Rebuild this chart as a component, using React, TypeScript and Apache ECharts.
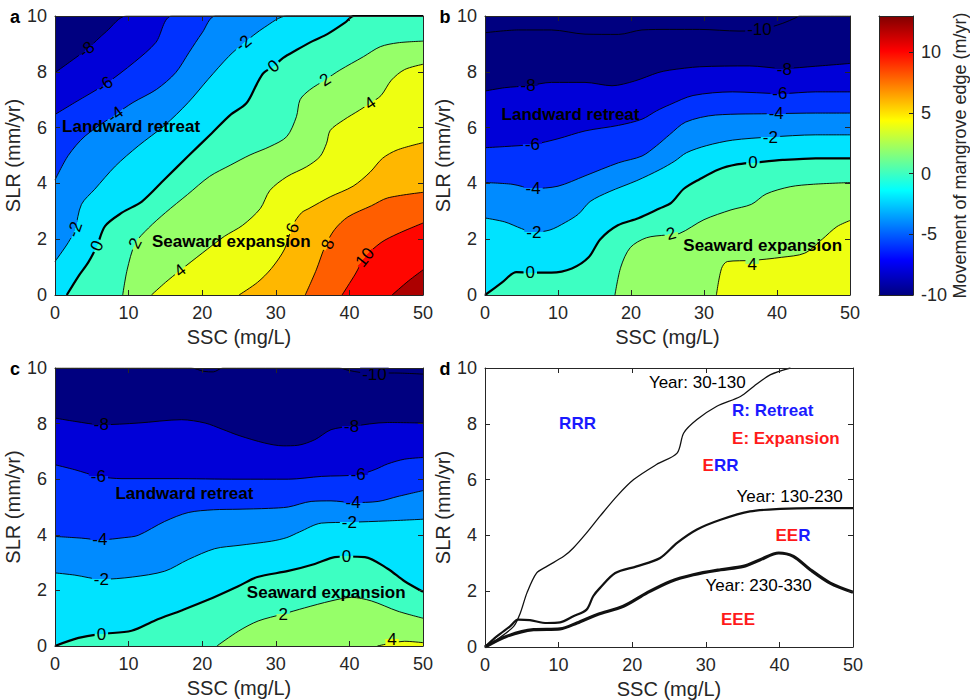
import React, { useEffect, useRef } from "react";
import * as echarts from "echarts";

type Pt = [number, number];
type Lab = [number, number, string, number];
type Txt = [number, number, string];

const FONT = '"Liberation Sans", Arial, Helvetica, sans-serif';

// ---------- scales ----------
const SSC_TICKS = [0, 10, 20, 30, 40, 50];
const SLR_TICKS = [0, 2, 4, 6, 8, 10];
const CBAR_MIN = -10;
const CBAR_MAX = 13;
const CBAR_STEP = 5;
const LEVEL_STEP = 2;

// ---------- panel a: contour lines (SSC, SLR) ----------
const A_LEVELS = [-8, -6, -4, -2, 0, 2, 4, 6, 8, 10, 12];
const A_M8: Pt[] = [[0, 7.97], [2, 8.35], [4.3, 8.8], [7, 9.45], [9.7, 10], [50, 10]];
const A_M6: Pt[] = [[0, 6.47], [2.7, 6.9], [6.8, 7.55], [10.8, 8.35], [13.7, 9.05], [15.9, 10], [50, 10]];
const A_M4: Pt[] = [[0, 4.12], [1.8, 5.0], [4.1, 5.7], [8.2, 6.47], [10.6, 6.9], [13.8, 7.37], [16.4, 7.97], [18.2, 8.69], [20, 9.4], [21.8, 10], [50, 10]];
const A_M2: Pt[] = [[0, 1.2], [1.8, 1.88], [2.7, 2.35], [3.6, 3.25], [5.4, 3.79], [8.2, 4.62], [11.3, 5.34], [14.9, 6.08], [18.1, 6.9], [20.8, 7.73], [23.6, 8.55], [25.6, 9.02], [28.5, 9.6], [31.5, 10], [50, 10]];
const A_0: Pt[] = [[1.6, 0], [3.2, 0.68], [4.5, 1.16], [5.7, 1.76], [6.8, 2.47], [9.1, 2.95], [11.8, 3.35], [14.9, 4.15], [18.1, 4.98], [21.3, 5.8], [23.8, 6.45], [26, 6.87], [27.4, 7.55], [28.3, 7.95], [29.7, 8.2], [31, 8.5], [32.8, 8.78], [35, 9.1], [37, 9.35], [39.4, 9.76], [40.6, 10], [50, 10]];
const A_2: Pt[] = [[9.2, 0], [9.8, 0.9], [10.9, 1.85], [12.7, 2.4], [15, 2.95], [18, 3.6], [21, 4.25], [23.8, 4.65], [26.5, 5.02], [29.2, 5.32], [31.5, 5.68], [32.8, 6.39], [33.3, 7.0], [34.6, 7.35], [36.7, 7.71], [38.7, 8.06], [41.9, 8.54], [44.2, 8.9], [46.6, 9.04], [50, 9.1]];
const A_4: Pt[] = [[13.1, 0], [15, 0.45], [17, 0.88], [20, 1.5], [23, 2.1], [25.5, 2.5], [27.9, 3.1], [29.2, 3.75], [31.5, 4.24], [34.2, 4.6], [36, 4.96], [36.9, 5.44], [37.4, 5.9], [39.2, 6.27], [41.4, 6.63], [42.8, 6.87], [44.3, 7.15], [45.7, 7.7], [47.5, 8.08], [50, 8.27]];
const A_6: Pt[] = [[25, 0], [27.5, 0.45], [29.4, 0.95], [31.2, 1.65], [32.3, 2.5], [33.5, 2.95], [34.5, 3.1], [37.4, 3.52], [40.5, 3.9], [42.8, 4.4], [44.5, 4.9], [46.5, 5.2], [50, 5.46]];
const A_8: Pt[] = [[34, 0], [35.5, 0.9], [36.7, 1.75], [38, 2.35], [39.8, 2.8], [43, 3.2], [45.2, 3.48], [50, 3.68]];
const A_10: Pt[] = [[39, 0], [40.8, 0.75], [42.1, 1.35], [44.3, 1.88], [46.6, 2.2], [50, 2.58]];
const A_12: Pt[] = [[45.8, 0], [48, 0.5], [50, 0.9]];
const A_LINES = [A_M8, A_M6, A_M4, A_M2, A_0, A_2, A_4, A_6, A_8, A_10, A_12];
const A_LABELS: Lab[] = [
  [4.3, 8.8, "-8", 40], [6.8, 7.55, "-6", 34], [8.2, 6.47, "-4", 36], [2.7, 2.35, "-2", 71],
  [25.6, 9.02, "-2", 39], [5.7, 1.76, "0", 65], [29.7, 8.2, "0", 38], [10.9, 1.85, "2", 63],
  [36.7, 7.71, "2", 33], [17, 0.88, "4", 38], [42.8, 6.87, "4", 34], [32.3, 2.4, "6", 70],
  [37.1, 1.82, "8", 72], [42.1, 1.35, "10", 51],
];
const A_TEXT: Txt[] = [[0.9, 6.05, "Landward retreat"], [13.1, 1.92, "Seaward expansion"]];

// ---------- panel b ----------
const B_LEVELS = [-10, -8, -6, -4, -2, 0, 2, 4];
const B_M10: Pt[] = [[0, 9.4], [4.6, 9.5], [9.1, 9.5], [13.7, 9.35], [18.3, 9.34], [21.5, 9.5], [25.3, 9.52], [29.4, 9.52], [34.8, 9.46], [37.6, 9.5], [40.8, 9.74], [42.6, 9.94], [43.1, 10], [50, 10]];
const B_M8: Pt[] = [[0, 7.31], [2.7, 7.43], [5.9, 7.5], [9.1, 7.62], [13.7, 7.62], [17.4, 7.5], [20.5, 7.67], [23.7, 7.97], [25.3, 8.06], [29.4, 8.18], [36.2, 8.21], [40.8, 8.12], [45.3, 8.2], [50, 8.3]];
const B_M6: Pt[] = [[0, 5.28], [2.7, 5.32], [6.6, 5.4], [10, 5.6], [13.7, 5.88], [18.3, 6.08], [21.5, 6.3], [23.5, 6.6], [25.3, 6.82], [28.5, 7.15], [33.9, 7.28], [40.5, 7.22], [45.3, 7.28], [50, 7.28]];
const B_M4: Pt[] = [[0, 4.03], [3.7, 3.97], [6.6, 3.82], [10, 3.9], [13.7, 4.27], [18.3, 4.74], [21.5, 4.98], [23.5, 5.35], [25.3, 5.75], [27.5, 6.2], [31.6, 6.45], [39.9, 6.5], [45.3, 6.52], [50, 6.52]];
const B_M2: Pt[] = [[0, 2.76], [2.7, 2.62], [5, 2.38], [6.6, 2.25], [8.9, 2.33], [11, 2.6], [12.8, 2.9], [14.4, 3.35], [17, 3.7], [20.8, 4.1], [24, 4.5], [26, 4.8], [27.6, 5.1], [30.3, 5.35], [33.9, 5.55], [39, 5.66], [45.3, 5.74], [50, 5.74]];
const B_0: Pt[] = [[0, 0], [2.3, 0.44], [4.3, 0.82], [6.2, 0.8], [9.1, 0.8], [11.9, 0.95], [14.2, 1.35], [15.8, 2.0], [18.2, 2.5], [21, 2.75], [23.9, 3.1], [25.5, 3.3], [27.2, 3.8], [29.4, 4.15], [32, 4.5], [34.5, 4.68], [36.7, 4.74], [40.8, 4.84], [45.3, 4.9], [50, 4.9]];
const B_2: Pt[] = [[17.8, 0], [18.6, 1.0], [19.9, 1.7], [22.1, 2.05], [24.8, 2.15], [26.6, 2.2], [30, 2.7], [33.7, 3.05], [36.5, 3.25], [38.5, 3.62], [41.8, 3.88], [45, 3.97], [50, 4.03]];
const B_4: Pt[] = [[31.7, 0], [32.4, 0.95], [33.2, 1.2], [36.6, 1.24], [40.6, 1.35], [43.8, 1.5], [46.2, 2.0], [48.2, 2.45], [50, 2.67]];
const B_LINES = [B_M10, B_M8, B_M6, B_M4, B_M2, B_0, B_2, B_4];
const B_LABELS: Lab[] = [
  [37.6, 9.52, "-10", 0], [5.9, 7.5, "-8", 0], [41, 8.1, "-8", 0], [6.5, 5.4, "-6", 0],
  [40.4, 7.22, "-6", 0], [6.6, 3.82, "-4", 0], [39.9, 6.5, "-4", 0], [6.7, 2.25, "-2", 0],
  [39.1, 5.66, "-2", 0], [6.2, 0.8, "0", 0], [36.7, 4.74, "0", 0], [25.5, 2.2, "2", 15],
  [36.6, 1.1, "4", 0],
];
const B_TEXT: Txt[] = [[2.2, 6.48, "Landward retreat"], [27.1, 1.76, "Seaward expansion"]];

// ---------- panel c ----------
const C_LEVELS = [-10, -8, -6, -4, -2, 0, 2, 4];
const C_M10: Pt[] = [[0, 10], [18.5, 10], [20.2, 9.88], [21.5, 9.86], [22.8, 10], [38.6, 10], [39.8, 9.92], [41.5, 9.84], [43.4, 9.82], [46.1, 9.82], [50, 9.78]];
const C_M8: Pt[] = [[0, 8.2], [2.7, 8.08], [6.3, 7.96], [11.3, 8.02], [17.2, 8.14], [20.4, 8.02], [22.7, 7.8], [25, 7.57], [28.5, 7.3], [31, 7.2], [33, 7.22], [35.3, 7.42], [37.5, 7.78], [40.3, 7.9], [45.2, 8.04], [50, 8.02]];
const C_M6: Pt[] = [[0, 6.52], [2.7, 6.34], [5.9, 6.1], [9.1, 6.02], [15.9, 6.02], [25, 6.0], [31.7, 6.0], [36.2, 6.1], [41.2, 6.16], [43.5, 6.35], [45.2, 6.55], [47.5, 6.72], [50, 6.78]];
const C_M4: Pt[] = [[0, 3.94], [3.6, 3.88], [6.1, 3.82], [9.5, 3.9], [11.3, 3.98], [14.9, 4.48], [18.1, 4.8], [21.5, 4.9], [25, 4.92], [29, 4.95], [31.7, 5.0], [34.8, 5.2], [37.5, 5.22], [40.5, 5.16], [43.9, 5.2], [46.6, 5.38], [50, 5.59]];
const C_M2: Pt[] = [[0, 2.63], [2.7, 2.55], [6.3, 2.4], [10.5, 2.48], [14.9, 2.69], [18.1, 3.11], [21.7, 3.5], [25, 3.62], [29.4, 3.77], [31.5, 3.9], [33.2, 4.1], [36.2, 4.42], [40, 4.45], [45.2, 4.5], [50, 4.56]];
const C_0: Pt[] = [[0, 0], [3.2, 0.29], [6.3, 0.43], [10.4, 0.55], [13.6, 0.92], [17.2, 1.28], [20.8, 1.66], [24.9, 2.15], [27.5, 2.48], [31.7, 2.7], [35.3, 2.95], [38, 3.2], [39.6, 3.22], [42.1, 3.2], [45.2, 2.78], [47.5, 2.33], [50, 1.95]];
const C_2: Pt[] = [[22, 0], [24.9, 0.53], [27.6, 0.9], [31, 1.15], [33.9, 1.37], [37.5, 1.62], [40.3, 1.75], [43, 1.62], [46.6, 1.25], [50, 1.0]];
const C_4: Pt[] = [[43.8, 0], [46, 0.12], [47.5, 0.17], [50, 0.12]];
const C_LINES = [C_M10, C_M8, C_M6, C_M4, C_M2, C_0, C_2, C_4];
const C_LABELS: Lab[] = [
  [43.4, 9.76, "-10", 0], [6.3, 7.96, "-8", 0], [40.3, 7.9, "-8", 0], [5.9, 6.1, "-6", 0],
  [41.2, 6.16, "-6", 0], [6.1, 3.82, "-4", 0], [40.5, 5.16, "-4", 0], [6.3, 2.4, "-2", 0],
  [40, 4.45, "-2", 0], [6.3, 0.43, "0", 0], [39.6, 3.22, "0", 0], [31, 1.15, "2", 0],
  [45.8, 0.24, "4", 0],
];
const C_TEXT: Txt[] = [[8.15, 5.47, "Landward retreat"], [26, 1.91, "Seaward expansion"]];

// ---------- panel d: zero-movement boundaries ----------
const D_30_130: Pt[] = [[0, 0], [1.6, 0.26], [3.9, 0.74], [4.8, 1.22], [5.7, 1.94], [7, 2.65], [8.4, 2.89], [10.7, 3.25], [12, 3.55], [13.8, 4.09], [15.6, 4.68], [17.9, 5.4], [20.2, 6.0], [23.3, 6.54], [26.1, 6.95], [27, 7.67], [28.8, 8.15], [31.5, 8.63], [34.7, 8.98], [36.5, 9.34], [38.8, 9.76], [41.5, 10]];
const D_130_230: Pt[] = [[0, 0], [1.6, 0.38], [3.4, 0.74], [4.5, 0.98], [6.1, 0.96], [8.4, 0.86], [10.2, 0.88], [12, 1.1], [13.8, 1.34], [14.7, 1.82], [15.6, 2.11], [17.7, 2.65], [20.6, 2.89], [23.8, 3.19], [26.1, 3.73], [28.8, 4.21], [32, 4.56], [36, 4.86], [40.1, 4.95], [44.7, 4.98], [50, 4.98]];
const D_230_330: Pt[] = [[0, 0], [2.9, 0.38], [6.6, 0.62], [10.2, 0.65], [12.5, 0.86], [15.2, 1.16], [18.8, 1.46], [22, 1.94], [25.2, 2.35], [28.3, 2.59], [32, 2.77], [35.1, 2.89], [37.4, 3.13], [39.9, 3.37], [41.9, 3.25], [44.2, 2.77], [46.9, 2.29], [50, 1.96]];
const D_TEXT: Txt[] = [
  [22.2, 9.49, "Year: 30-130"], [34.1, 5.4, "Year: 130-230"], [29.9, 2.2, "Year: 230-330"],
  [33.5, 8.48, "{r|R: Retreat}"], [33.5, 7.47, "{e|E: Expansion}"], [10, 8.0, "{r|RRR}"],
  [29.5, 6.5, "{e|E}{r|RR}"], [39.4, 3.99, "{e|EE}{r|R}"], [32, 1.0, "{e|EEE}"],
];

function jet(v: number): string {
  const t = Math.min(1, Math.max(0, (v - CBAR_MIN) / (CBAR_MAX - CBAR_MIN)));
  const f = (c: number) => Math.round(255 * Math.min(1, Math.max(0, 1.5 - Math.abs(4 * t - c))));
  return `rgb(${f(3)},${f(2)},${f(1)})`;
}

const GRIDS = [
  { left: 55, top: 16, width: 368, height: 279 },
  { left: 485, top: 16, width: 365, height: 279 },
  { left: 55, top: 368, width: 368, height: 278 },
  { left: 485, top: 368, width: 368, height: 279 },
  { left: 879, top: 16, width: 35, height: 279 },
];

const AX = "#262626";

function panelAxes(gi: number) {
  const common = {
    gridIndex: gi,
    type: "value",
    z: 10,
    splitLine: { show: false },
    axisLine: { show: true, onZero: false, lineStyle: { color: AX, width: 1 } },
    axisTick: { show: true, inside: true, length: 5, lineStyle: { color: AX } },
  };
  const xMin = SSC_TICKS[0], xMax = SSC_TICKS[SSC_TICKS.length - 1], xInt = SSC_TICKS[1] - SSC_TICKS[0];
  const yMin = SLR_TICKS[0], yMax = SLR_TICKS[SLR_TICKS.length - 1], yInt = SLR_TICKS[1] - SLR_TICKS[0];
  const xs = [
    {
      ...common, position: "bottom", min: xMin, max: xMax, interval: xInt,
      axisLabel: { color: AX, fontSize: 18, fontFamily: FONT, margin: 9 },
      name: "SSC (mg/L)", nameLocation: "middle", nameGap: 32,
      nameTextStyle: { color: AX, fontSize: 20, fontFamily: FONT },
    },
    { ...common, position: "top", min: xMin, max: xMax, interval: xInt, axisLabel: { show: false } },
  ];
  const ys = [
    {
      ...common, position: "left", min: yMin, max: yMax, interval: yInt,
      axisLabel: { color: AX, fontSize: 18, fontFamily: FONT, margin: 8 },
      name: "SLR (mm/yr)", nameLocation: "middle", nameGap: 20,
      nameTextStyle: { color: AX, fontSize: 20, fontFamily: FONT },
    },
    { ...common, position: "right", min: yMin, max: yMax, interval: yInt, axisLabel: { show: false } },
  ];
  return { xs, ys };
}

// label background split in two: colour of the band above the line / below the line,
// so the contour line appears broken behind its label (as in MATLAB clabel)
function gapFill(level: number) {
  const up = jet(level - LEVEL_STEP);
  const down = jet(level);
  return {
    type: "linear", x: 0, y: 0, x2: 0, y2: 1,
    colorStops: [
      { offset: 0, color: up }, { offset: 0.5, color: up },
      { offset: 0.5, color: down }, { offset: 1, color: down },
    ],
  };
}

function labelSeries(gi: number, labels: Lab[]) {
  return {
    type: "scatter", xAxisIndex: gi * 2, yAxisIndex: gi * 2, silent: true, z: 6,
    symbolSize: 1, itemStyle: { color: "rgba(0,0,0,0)", opacity: 1 },
    data: labels.map(([x, y, t, r]) => ({
      value: [x, y], name: t,
      label: { rotate: r, backgroundColor: gapFill(Number(t)) },
    })),
    label: {
      show: true, position: "inside", formatter: (p: any) => p.name,
      color: "#000", fontSize: 17, fontFamily: FONT, opacity: 1,
      padding: [0, 2, 0, 2], lineHeight: 14,
    },
  };
}

function textSeries(gi: number, texts: Txt[], bold: boolean) {
  return {
    type: "scatter", xAxisIndex: gi * 2, yAxisIndex: gi * 2, silent: true, z: 7,
    symbolSize: 1, itemStyle: { color: "rgba(0,0,0,0)", opacity: 1 },
    data: texts.map(([x, y, t]) => ({ value: [x, y], name: t })),
    label: {
      show: true, position: "right", distance: 0, formatter: (p: any) => p.name, opacity: 1,
      color: "#000", fontSize: 17, fontWeight: bold ? "bold" : "normal", fontFamily: FONT,
      rich: {
        r: { color: "#1a1aff", fontSize: 17, fontWeight: "bold", fontFamily: FONT },
        e: { color: "#ff1a1a", fontSize: 17, fontWeight: "bold", fontFamily: FONT },
      },
    },
  };
}

function contourSeries(gi: number, levels: number[], lines: Pt[][]) {
  return lines.map((pts, k) => ({
    type: "line", xAxisIndex: gi * 2, yAxisIndex: gi * 2, silent: true, z: 2,
    data: pts, symbol: "none", smooth: 0.3, clip: true,
    lineStyle: { color: "#000", width: levels[k] === 0 ? 2.2 : 0.9 },
    areaStyle: { color: jet(levels[k]), opacity: 1, origin: "start" },
  }));
}

export default function App() {
  const ref = useRef<HTMLDivElement>(null);
  useEffect(() => {
    if (!ref.current) return;
    const chart = echarts.init(ref.current, undefined, { renderer: "svg" });

    const xAxis: any[] = [];
    const yAxis: any[] = [];
    for (let gi = 0; gi < 4; gi++) {
      const { xs, ys } = panelAxes(gi);
      xAxis.push(...xs);
      yAxis.push(...ys);
    }
    // colour bar axes
    const frame = { show: true, onZero: false, lineStyle: { color: AX, width: 1 } };
    xAxis.push(
      { gridIndex: 4, type: "value", min: 0, max: 1, position: "bottom", z: 10, axisLine: frame, axisTick: { show: false }, axisLabel: { show: false }, splitLine: { show: false } },
      { gridIndex: 4, type: "value", min: 0, max: 1, position: "top", z: 10, axisLine: frame, axisTick: { show: false }, axisLabel: { show: false }, splitLine: { show: false } },
    );
    yAxis.push(
      { gridIndex: 4, type: "value", min: CBAR_MIN, max: CBAR_MAX, interval: CBAR_STEP, position: "left", z: 10, axisLine: frame, axisTick: { show: false }, axisLabel: { show: false }, splitLine: { show: false } },
      {
        gridIndex: 4, type: "value", min: CBAR_MIN, max: CBAR_MAX, interval: CBAR_STEP, position: "right", z: 10,
        axisLine: frame, splitLine: { show: false },
        axisTick: { show: true, inside: true, length: 4, lineStyle: { color: AX } },
        axisLabel: { color: AX, fontSize: 18, fontFamily: FONT, margin: 8, showMaxLabel: false },
        name: "Movement of mangrove edge (m/yr)", nameLocation: "middle", nameGap: 38,
        nameTextStyle: { color: AX, fontSize: 18, fontFamily: FONT },
      },
    );

    const series: any[] = [
      ...contourSeries(0, A_LEVELS, A_LINES),
      labelSeries(0, A_LABELS),
      textSeries(0, A_TEXT, true),
      ...contourSeries(1, B_LEVELS, B_LINES),
      labelSeries(1, B_LABELS),
      textSeries(1, B_TEXT, true),
      ...contourSeries(2, C_LEVELS, C_LINES),
      labelSeries(2, C_LABELS),
      textSeries(2, C_TEXT, true),
      {
        type: "line", xAxisIndex: 6, yAxisIndex: 6, data: D_30_130, symbol: "none", smooth: 0.3,
        silent: true, lineStyle: { color: "#111", width: 1.3 },
      },
      {
        type: "line", xAxisIndex: 6, yAxisIndex: 6, data: D_130_230, symbol: "none", smooth: 0.3,
        silent: true, lineStyle: { color: "#111", width: 2.2 },
      },
      {
        type: "line", xAxisIndex: 6, yAxisIndex: 6, data: D_230_330, symbol: "none", smooth: 0.3,
        silent: true, lineStyle: { color: "#111", width: 3.2 },
      },
      textSeries(3, D_TEXT, false),
    ];

    const cbarStops = [0, 0.125, 0.375, 0.625, 0.875, 1].map((o) => ({
      offset: o,
      color: jet(CBAR_MIN + o * (CBAR_MAX - CBAR_MIN)),
    }));

    const letters = [["a", 15, 17], ["b", 445, 17], ["c", 15, 369], ["d", 445, 369]] as const;

    chart.setOption({
      animation: false,
      backgroundColor: "#ffffff",
      grid: GRIDS.map((g, i) => ({
        ...g, containLabel: false, show: i < 3,
        backgroundColor: i < 3 ? jet(CBAR_MIN) : "transparent", borderWidth: 0,
      })),
      xAxis,
      yAxis,
      series,
      graphic: [
        {
          type: "rect", z: 1, silent: true,
          shape: { x: GRIDS[4].left, y: GRIDS[4].top, width: GRIDS[4].width, height: GRIDS[4].height },
          style: {
            fill: { type: "linear", x: 0, y: 1, x2: 0, y2: 0, colorStops: cbarStops.map((s) => ({ offset: s.offset, color: s.color })) },
          },
        },
        ...letters.map(([t, x, y]) => ({
          type: "text", x, y, z: 20, silent: true,
          style: { text: t, fill: "#000", font: `bold 18px ${FONT}`, align: "center", verticalAlign: "middle" },
        })),
      ],
    });
    return () => chart.dispose();
  }, []);
  return <div ref={ref} style={{ position: "fixed", left: 0, top: 0, width: 970, height: 700 }} />;
}
